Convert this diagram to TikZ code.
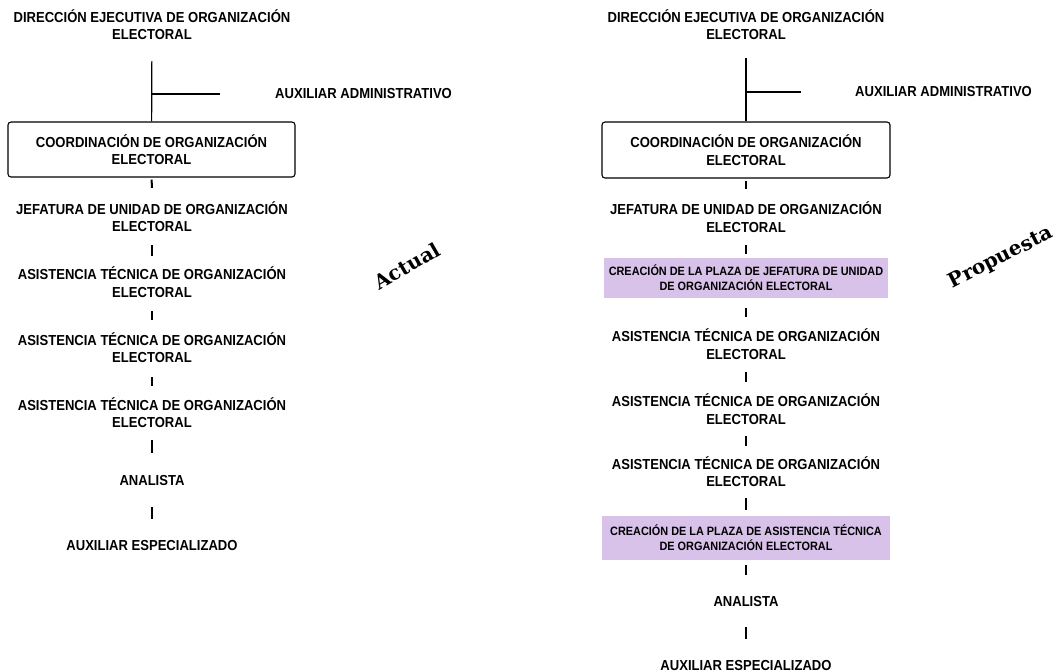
\documentclass[tikz,border=0pt]{standalone}
\usepackage{fontspec}
\newfontfamily\orgfont{Liberation Sans}[FakeStretch=0.9]
\newfontfamily\labfont{DejaVu Serif}
\definecolor{plz}{RGB}{217,194,234}
\tikzset{
  org/.style={font=\orgfont\bfseries\fontsize{14.5}{17.5}\selectfont, align=center, inner sep=0pt, minimum height=40pt},
  one/.style={org, minimum height=20pt},
  cbox/.style={draw, rounded corners=3pt, line width=1.1pt, inner sep=0pt, align=center,
    font=\orgfont\bfseries\fontsize{14.5}{17.5}\selectfont},
  pbox/.style={fill=plz, inner sep=0pt, align=center,
    font=\orgfont\bfseries\fontsize{12.1}{15}\selectfont},
  link/.style={line width=1.2pt},
  tk/.style 2 args={line width=2pt, shorten <=#1pt, shorten >=#2pt},
  lab/.style={font=\labfont\bfseries\fontsize{20}{24}\selectfont, inner sep=0pt}
}
\begin{document}
\begin{tikzpicture}[x=1pt,y=-1pt]
\useasboundingbox (0,0) rectangle (1063,672);
% ---------- Actual ----------
\node[org] (dirL) at (152,24.5) {DIRECCIÓN EJECUTIVA DE ORGANIZACIÓN\\ELECTORAL};
\node[one, anchor=west] (aaL) at (275,94) {AUXILIAR ADMINISTRATIVO};
\node[cbox, minimum width=287pt, minimum height=55pt] (boxL) at (151.5,149.5) {COORDINACIÓN DE ORGANIZACIÓN\\ELECTORAL};
\node[org] (jefL) at (152,216.5) {JEFATURA DE UNIDAD DE ORGANIZACIÓN\\ELECTORAL};
\node[org] (as1L) at (152,282) {ASISTENCIA TÉCNICA DE ORGANIZACIÓN\\ELECTORAL};
\node[org] (as2L) at (152,347.5) {ASISTENCIA TÉCNICA DE ORGANIZACIÓN\\ELECTORAL};
\node[org] (as3L) at (152,412.5) {ASISTENCIA TÉCNICA DE ORGANIZACIÓN\\ELECTORAL};
\node[one] (anaL) at (152,481) {ANALISTA};
\node[one] (aeL) at (152,546) {AUXILIAR ESPECIALIZADO};
\coordinate (brL) at (152,94);
\draw[link, shorten <=16.5pt] (dirL) -- (boxL);
\draw[link, shorten >=55pt] (brL) -- (aaL.west);
\draw[tk={2}{8.5}] (boxL) -- (jefL);
\draw[tk={8.5}{6}] (jefL) -- (as1L);
\draw[tk={9}{7.5}] (as1L) -- (as2L);
\draw[tk={9.5}{6.5}] (as2L) -- (as3L);
\draw[tk={7.5}{18}] (as3L) -- (anaL);
\draw[tk={16}{17}] (anaL) -- (aeL);
\node[lab, rotate=30] (actual) at (407,266) {Actual};
% ---------- Propuesta ----------
\node[org] (dirR) at (746,24.5) {DIRECCIÓN EJECUTIVA DE ORGANIZACIÓN\\ELECTORAL};
\node[one, anchor=west] (aaR) at (855,92) {AUXILIAR ADMINISTRATIVO};
\node[cbox, minimum width=288pt, minimum height=56pt] (boxR) at (746,150) {COORDINACIÓN DE ORGANIZACIÓN\\ELECTORAL};
\node[org] (jefR) at (746,217) {JEFATURA DE UNIDAD DE ORGANIZACIÓN\\ELECTORAL};
\node[pbox, minimum width=284pt, minimum height=40pt] (p1) at (746,278) {CREACIÓN DE LA PLAZA DE JEFATURA DE UNIDAD\\DE ORGANIZACIÓN ELECTORAL};
\node[org] (as1R) at (746,344) {ASISTENCIA TÉCNICA DE ORGANIZACIÓN\\ELECTORAL};
\node[org] (as2R) at (746,409) {ASISTENCIA TÉCNICA DE ORGANIZACIÓN\\ELECTORAL};
\node[org] (as3R) at (746,471.5) {ASISTENCIA TÉCNICA DE ORGANIZACIÓN\\ELECTORAL};
\node[pbox, minimum width=288pt, minimum height=44pt] (p2) at (746,538) {CREACIÓN DE LA PLAZA DE ASISTENCIA TÉCNICA\\DE ORGANIZACIÓN ELECTORAL};
\node[one] (anaR) at (746,602) {ANALISTA};
\node[one] (aeR) at (746,665) {AUXILIAR ESPECIALIZADO};
\coordinate (brR) at (746,92);
\draw[link, shorten <=13.5pt] (dirR) -- (boxR);
\draw[link, shorten >=54pt] (brR) -- (aaR.west);
\draw[tk={2}{8}] (boxR) -- (jefR);
\draw[tk={8}{4}] (jefR) -- (p1);
\draw[tk={10}{7}] (p1) -- (as1R);
\draw[tk={8}{7}] (as1R) -- (as2R);
\draw[tk={7}{5.5}] (as2R) -- (as3R);
\draw[tk={6.5}{6}] (as3R) -- (p2);
\draw[tk={5}{17}] (p2) -- (anaR);
\draw[tk={15}{16}] (anaR) -- (aeR);
\node[lab, rotate=27] (prop) at (1001,258) {Propuesta};
\end{tikzpicture}
\end{document}
